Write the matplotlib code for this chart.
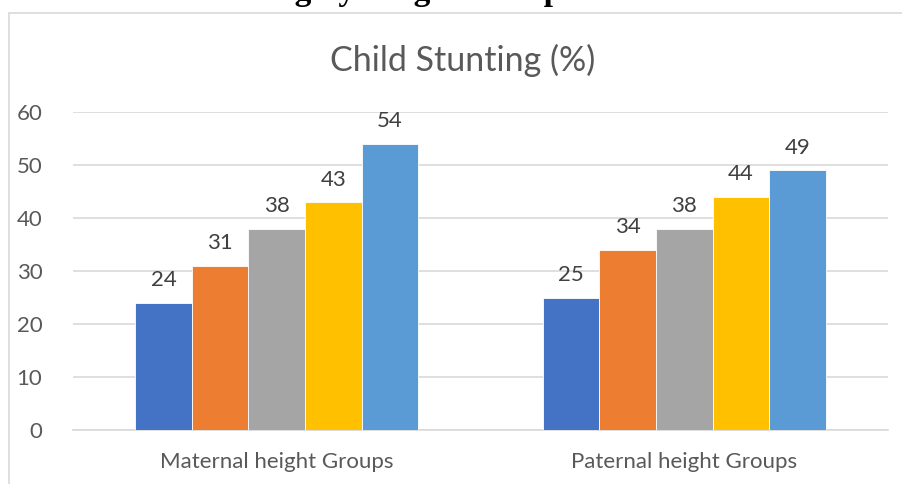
import matplotlib
matplotlib.use("Agg")
import matplotlib.pyplot as plt
import numpy as np
from matplotlib.patches import Rectangle

# data
groups = ["Maternal height Groups", "Paternal height Groups"]
series_colors = ["#4472C4", "#ED7D31", "#A5A5A5", "#FFC000", "#5B9BD5"]
maternal = [24, 31, 38, 43, 54]
paternal = [25, 34, 38, 44, 49]
y_ticks = [0, 10, 20, 30, 40, 50, 60]
heading = "Child Stunting by Height Groups of Maternal and Paternal Height"

plt.rcParams["font.family"] = ["Lato", "DejaVu Sans"]

fig = plt.figure(figsize=(9.03, 4.84), dpi=100)
ax = fig.add_axes([73 / 903, 54 / 484, 815 / 903, 318 / 484])

# cropped document heading above the chart (only the descenders show);
# place it so that "Groups" starts near x = 468 px
head_kw = dict(fontsize=24, fontweight="bold", family="Liberation Serif")
probe = fig.text(0, 0, "Child Stunting by Height G", **head_kw)
probe_g = fig.text(0, 0, "G", **head_kw)
r = fig.canvas.get_renderer()
w_prefix = probe.get_window_extent(r).width - probe_g.get_window_extent(r).width
probe.remove()
probe_g.remove()
fig.text((468 - w_prefix) / 903, 1.0, heading,
         ha="left", va="baseline", color="black", **head_kw)

# chart frame
fig.patches.append(Rectangle((9 / 903, -0.2), 1.2, 0.2 + (484 - 13) / 484,
                             transform=fig.transFigure, fill=False,
                             edgecolor="#d9d9d9", lw=1.2))

x = np.arange(len(groups))
n = len(series_colors)
width = 0.139
values = np.array([maternal, paternal])
for i in range(n):
    pos = x + (i - (n - 1) / 2) * width
    bars = ax.bar(pos, values[:, i], width=width, color=series_colors[i],
                  edgecolor="white", linewidth=0.6, zorder=3)
    for b, v in zip(bars, values[:, i]):
        ax.annotate(f"{v}", (b.get_x() + b.get_width() / 2, v),
                    xytext=(0, 9), textcoords="offset points",
                    ha="center", va="bottom", fontsize=16, color="#404040")

ax.set_xlim(-0.5, 1.5)
ax.set_ylim(0, 60)
ax.set_yticks(y_ticks)
ax.set_xticks(x)
ax.set_xticklabels(groups)
ax.yaxis.grid(True, color="#d9d9d9", lw=1.2, zorder=0)
ax.tick_params(axis="both", length=0, labelsize=16, labelcolor="#595959")
ax.tick_params(axis="y", pad=22)
ax.tick_params(axis="x", pad=16)
for s in ["top", "right", "left"]:
    ax.spines[s].set_visible(False)
ax.spines["bottom"].set_color("#d9d9d9")
ax.spines["bottom"].set_linewidth(1.2)

fig.text(463 / 903, 1 - 60 / 484, "Child Stunting (%)", ha="center", va="center",
         fontsize=24.5, color="#595959")

fig.savefig("out.png", dpi=100)
